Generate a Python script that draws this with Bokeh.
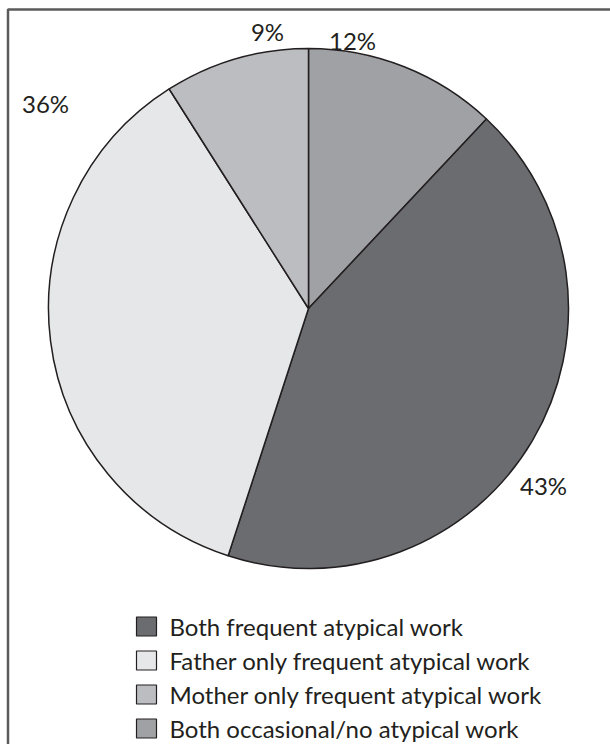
import math
from bokeh.plotting import figure
from bokeh.models import Range1d, ColumnDataSource
from bokeh.core.properties import value
from bokeh.embed import file_html
from bokeh.resources import INLINE

# Shares of families by parental atypical-work pattern (clockwise from 12 o'clock)
categories = [
    "Both occasional/no atypical work",
    "Both frequent atypical work",
    "Father only frequent atypical work",
    "Mother only frequent atypical work",
]
shares = [12, 43, 36, 9]
colors = ["#a0a1a4", "#6b6c70", "#e6e7e8", "#bcbdc0"]

# Legend order as printed below the pie
legend_order = [1, 2, 3, 0]

W, H = 610, 744
cx, cy_top = 308, 308      # pie centre (y measured from top of page)
radius = 260

def ty(y_from_top):
    """Convert a top-down page position to the plot's y coordinate."""
    return H - y_from_top

# Wedge angles: start at the top and run clockwise
starts, ends = [], []
cum = 0.0
for s in shares:
    a0 = math.pi / 2 - 2 * math.pi * cum / 100.0
    cum += s
    a1 = math.pi / 2 - 2 * math.pi * cum / 100.0
    starts.append(a1)
    ends.append(a0)

src = ColumnDataSource(dict(start=starts, end=ends, color=colors,
                            share=shares, cat=categories))

p = figure(width=W, height=H, output_backend="svg", toolbar_location=None,
           x_range=Range1d(0, W), y_range=Range1d(0, H),
           min_border=0, outline_line_color=None, background_fill_color="white")
p.axis.visible = False
p.grid.visible = False

# Frame around the figure area
p.quad(left=7.5, right=W + 30, top=ty(9), bottom=-30,
       fill_color=None, line_color="#5b5b5b", line_width=2.5)

p.wedge(x=cx, y=ty(cy_top), radius=radius, radius_units="screen",
        start_angle="start", end_angle="end", source=src,
        fill_color="color", line_color="#231f20", line_width=1.5)

# Percentage labels
label_x = [352, 543, 45, 267]
label_y = [40, 485, 103, 31]
p.text(x=label_x, y=[ty(v) for v in label_y], text=[f"{s}%" for s in shares],
       text_font=value("Lato"), text_font_size="24px", text_color="#231f20",
       text_align="center", text_baseline="middle")

# Legend
leg_rows = [626, 660, 694, 728]
sq_x, txt_x = 146, 169
p.rect(x=[sq_x] * 4, y=[ty(v) for v in leg_rows], width=20, height=19,
       width_units="screen", height_units="screen",
       fill_color=[colors[i] for i in legend_order],
       line_color="#231f20", line_width=1.2)
p.text(x=[txt_x] * 4, y=[ty(v) for v in leg_rows],
       text=[categories[i] for i in legend_order],
       text_font=value("Lato"), text_font_size="24px", text_color="#231f20",
       text_align="left", text_baseline="middle")

open("out.html", "w").write(file_html(p, INLINE))
